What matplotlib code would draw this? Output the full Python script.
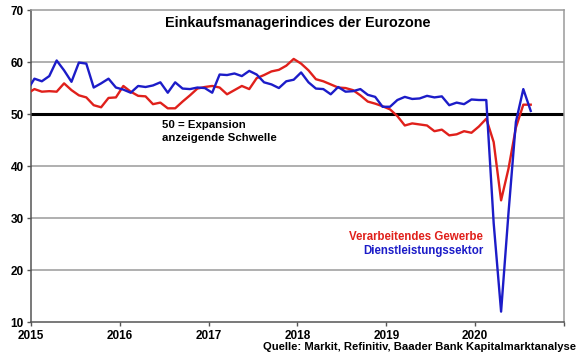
import numpy as np
import pandas as pd
import matplotlib
matplotlib.use("Agg")
import matplotlib.pyplot as plt

plt.rcParams['font.family'] = ['Liberation Sans', 'DejaVu Sans']
plt.rcParams['font.weight'] = 'bold'

# Monatswerte Dez 2014 - Aug 2020
monate = pd.date_range('2014-12-01', '2020-08-01', freq='MS')

verarbeitendes_gewerbe = [
    53.9,
    54.8, 54.3, 54.4, 54.3, 55.9, 54.6, 53.6, 53.2, 51.7, 51.3, 53.1, 53.2,
    55.4, 54.3, 53.5, 53.4, 51.9, 52.2, 51.1, 51.1, 52.4, 53.6, 54.9, 55.2,
    55.4, 55.1, 53.8, 54.6, 55.4, 54.8, 56.9, 57.5, 58.2, 58.5, 59.3, 60.6,
    59.7, 58.4, 56.7, 56.3, 55.7, 55.1, 55.0, 54.6, 53.6, 52.4, 52.0, 51.5,
    50.9, 49.6, 47.8, 48.2, 48.0, 47.8, 46.7, 47.0, 45.9, 46.1, 46.7, 46.4,
    47.6, 49.1, 44.6, 33.4, 39.5, 47.4, 51.8, 51.8,
]

dienstleistungen = [
    54.5,
    56.8, 56.3, 57.3, 60.3, 58.4, 56.2, 59.9, 59.7, 55.1, 55.9, 56.8, 55.1,
    54.7, 54.1, 55.4, 55.2, 55.5, 56.1, 54.1, 56.1, 54.9, 54.8, 55.1, 55.0,
    54.1, 57.6, 57.5, 57.8, 57.3, 58.3, 57.6, 56.1, 55.7, 55.0, 56.3, 56.6,
    58.0, 56.1, 54.9, 54.8, 53.8, 55.2, 54.3, 54.4, 54.8, 53.7, 53.3, 51.4,
    51.4, 52.7, 53.3, 52.9, 53.0, 53.5, 53.2, 53.4, 51.7, 52.2, 51.9, 52.8,
    52.7, 52.7, 29.0, 12.0, 31.0, 48.5, 54.8, 50.6,
]

jahre = [2015, 2016, 2017, 2018, 2019, 2020, 2021]
y_ticks = [10, 20, 30, 40, 50, 60, 70]

# Position: Monatsmitte in Jahresbruchteilen
x = monate.year + (monate.month - 0.5) / 12

fig = plt.figure(figsize=(5.8, 3.59), dpi=100)
ax = fig.add_axes([0.053, 0.103, 0.9195, 0.869])

for y in [20, 30, 40, 60]:
    ax.axhline(y, color='#9a9a9a', lw=1.1, zorder=1)
ax.axhline(50, color='black', lw=2.2, zorder=2)

ax.plot(x, verarbeitendes_gewerbe, color='#e0201b', lw=1.7, zorder=3)
ax.plot(x, dienstleistungen, color='#1c1cc8', lw=1.7, zorder=4)

ax.set_xlim(2015, 2021)
ax.set_ylim(10, 70)
ax.set_xticks(jahre)
ax.set_xticklabels([str(j) for j in jahre[:-1]] + [''])
ax.set_yticks(y_ticks)
ax.tick_params(axis='both', labelsize=8.5, direction='out', length=3,
               color='#555555', width=1)
ax.tick_params(axis='x', pad=3)
ax.tick_params(axis='y', pad=2)

for s in ['left', 'bottom']:
    ax.spines[s].set_color('#555555')
    ax.spines[s].set_linewidth(1.1)
for s in ['top', 'right']:
    ax.spines[s].set_color('#9a9a9a')
    ax.spines[s].set_linewidth(1.1)

ax.text(0.5, 0.958, 'Einkaufsmanagerindices der Eurozone', transform=ax.transAxes,
        ha='center', va='center', fontsize=10.4, fontweight='bold')

ax.text(2016.475, 48.9, '50 = Expansion\nanzeigende Schwelle', ha='left', va='top',
        fontsize=8.2, fontweight='bold', linespacing=1.35)

ax.text(2020.09, 26.4, 'Verarbeitendes Gewerbe', color='#e0201b', ha='right',
        va='center', fontsize=8.3, fontweight='bold')
ax.text(2020.09, 23.65, 'Dienstleistungssektor', color='#1c1cc8', ha='right',
        va='center', fontsize=8.3, fontweight='bold')

fig.text(0.993, 0.033, 'Quelle: Markit, Refinitiv, Baader Bank Kapitalmarktanalyse',
         ha='right', va='center', fontsize=8.1, fontweight='bold')

fig.savefig('out.png', dpi=100)
